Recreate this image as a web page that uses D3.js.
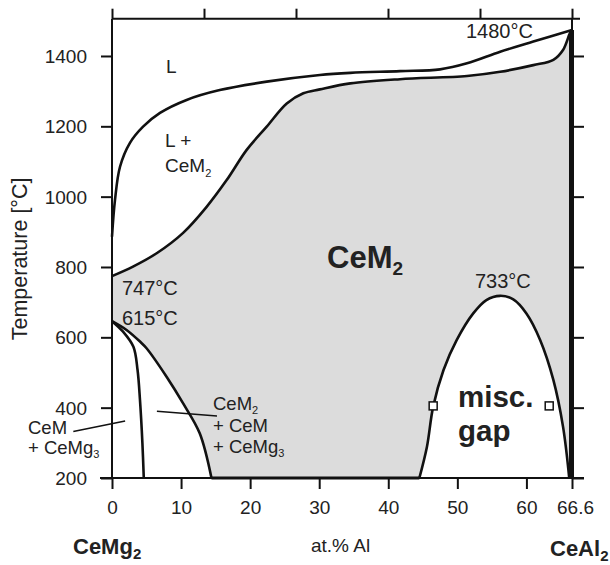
<!DOCTYPE html>
<html>
<head>
<meta charset="utf-8">
<script src="https://cdn.jsdelivr.net/npm/d3@7"></script>
<style>
  body { margin: 0; background: #fff; }
  svg { display: block; }
  text { font-family: "Liberation Sans", Arial, sans-serif; fill: #222; }
</style>
</head>
<body>
<svg id="chart" width="610" height="565"></svg>
<script>
// CeMg2 - CeAl2 section, x = at.% Al, y = temperature in degC

var xTicks = [0, 10, 20, 30, 40, 50, 60, 66.6];
var yTicks = [200, 400, 600, 800, 1000, 1200, 1400];
var topTicks = [0, 13.32, 26.64, 39.96, 53.28, 66.6];

// phase boundaries, [at.% Al, T]
var liquidus = [[0, 886], [0.43, 990], [1.16, 1085], [2.6, 1153], [4.5, 1199], [6.95, 1238],
  [10.8, 1275], [15.6, 1303], [22.4, 1327], [30.1, 1346], [34.5, 1352], [41.7, 1357],
  [47.5, 1362], [51.4, 1379], [56.2, 1412], [61, 1441], [66.6, 1474]];
var solidus = [[0, 774], [3.04, 801], [6.47, 839], [10.3, 897], [13.7, 971], [16.6, 1047],
  [19.5, 1133], [22.4, 1199], [25.3, 1265], [27.7, 1294], [30.1, 1305], [34.5, 1322],
  [41.7, 1334], [51.4, 1343], [56.2, 1355], [61, 1374], [63.9, 1389], [65.3, 1417],
  [66.3, 1465], [66.6, 1474]];
var solvusCeM2 = [[0, 646], [2.1, 621], [4.05, 588], [5.0, 569], [7.9, 488], [10.3, 412],
  [12.7, 327], [14.4, 200]];
var solvusCeM = [[0, 646], [1.6, 616], [3.1, 573], [3.7, 507], [4.05, 422], [4.4, 300], [4.6, 200]];
var miscGap = [[44.5, 200], [45.6, 289], [46.5, 403], [48.0, 507], [49.9, 592], [52.3, 668],
  [54.2, 706], [56.2, 718], [58.1, 708], [60.0, 668], [62.0, 592], [63.9, 479],
  [65.3, 346], [66.2, 200]];
var gapPoints = [[46.5, 405], [63.3, 405]];

var svg = d3.select("#chart");

var x = d3.scaleLinear().domain([0, 66.6]).range([112, 572]);
var y = d3.scaleLinear().domain([200, 1506]).range([478, 18.7]);

var line = d3.line()
  .x(function (d) { return x(d[0]); })
  .y(function (d) { return y(d[1]); })
  .curve(d3.curveCatmullRom.alpha(0.5));

// join path pieces into one closed outline
var piece = function (pts) { return line(pts).replace(/^M/, "L"); };

///////////////////////////////////////////////////////////////////////////////
// CeM2 field (grey)

var outline = line(solidus) +
  "L" + x(66.6) + "," + y(200) +
  piece(miscGap.slice().reverse()) +
  "L" + x(14.4) + "," + y(200) +
  piece(solvusCeM2.slice().reverse()) + "Z";

svg.append("path")
  .attr("d", outline)
  .attr("fill", "#dcdcdc")
  .attr("stroke", "none");

///////////////////////////////////////////////////////////////////////////////
// Axes

var axes = svg.append("g").attr("stroke", "#111").attr("stroke-width", 2).attr("fill", "none");
axes.append("line").attr("x1", x(0)).attr("x2", x(0)).attr("y1", y.range()[1]).attr("y2", y(200));
axes.append("line").attr("x1", x(0) - 12).attr("x2", x(66.6) + 12).attr("y1", y(200)).attr("y2", y(200));
axes.append("line").attr("x1", x(0)).attr("x2", x(66.6) + 8).attr("y1", y.range()[1]).attr("y2", y.range()[1]);
axes.append("line").attr("x1", x(66.6)).attr("x2", x(66.6)).attr("y1", y.range()[1]).attr("y2", y(200));

var axLeft = svg.append("g")
  .attr("transform", "translate(" + x(0) + ",0)")
  .call(d3.axisLeft(y).tickValues(yTicks).tickSize(11).tickPadding(14).tickFormat(d3.format("d")));
var axRight = svg.append("g")
  .attr("transform", "translate(" + x(66.6) + ",0)")
  .call(d3.axisRight(y).tickValues(yTicks).tickSize(12).tickFormat(""));
var axBottom = svg.append("g")
  .attr("transform", "translate(0," + y(200) + ")")
  .call(d3.axisBottom(x).tickValues(xTicks).tickSize(11).tickPadding(11)
    .tickFormat(function (d) { return d === 66.6 ? "66.6" : d; }));
var axTop = svg.append("g")
  .attr("transform", "translate(0," + y.range()[1] + ")")
  .call(d3.axisTop(x).tickValues(topTicks).tickSize(10).tickFormat(""));

[axLeft, axRight, axBottom, axTop].forEach(function (g) {
  g.select(".domain").remove();
  g.selectAll(".tick line").attr("stroke", "#111").attr("stroke-width", 2);
  g.selectAll(".tick text").attr("fill", "#222").style("font-size", "19px")
    .style("font-family", "'Liberation Sans', Arial, sans-serif");
});
axLeft.selectAll(".tick text").attr("dy", "0.35em");
axBottom.selectAll(".tick text").attr("dy", "0.75em")
  .attr("dx", function (d) { return d === 66.6 ? 3 : 0; });

///////////////////////////////////////////////////////////////////////////////
// Phase boundaries

var curves = svg.append("g").attr("fill", "none").attr("stroke", "#111")
  .attr("stroke-width", 2.6).attr("stroke-linejoin", "round");
[liquidus, solidus, solvusCeM2, solvusCeM, miscGap].forEach(function (pts) {
  curves.append("path").attr("d", line(pts));
});
curves.append("line")
  .attr("x1", x(14.4)).attr("x2", x(44.5)).attr("y1", y(200)).attr("y2", y(200))
  .attr("stroke-width", 3);
curves.append("line")
  .attr("x1", x(66.6) - 0.5).attr("x2", x(66.6) - 0.5).attr("y1", y(1474)).attr("y2", y(200))
  .attr("stroke-width", 5);

svg.selectAll("rect.pt")
  .data(gapPoints)
  .enter().append("rect")
  .attr("class", "pt")
  .attr("x", function (d) { return x(d[0]) - 4; })
  .attr("y", function (d) { return y(d[1]) - 4; })
  .attr("width", 8).attr("height", 8)
  .attr("fill", "#fff").attr("stroke", "#111").attr("stroke-width", 1.5);

// leader lines for the small fields
var leaders = [[[-5.6, 332], [1.9, 362]], [[6.5, 390], [15.2, 376]]];
svg.selectAll("path.leader")
  .data(leaders)
  .enter().append("path")
  .attr("class", "leader")
  .attr("d", d3.line().x(function (d) { return x(d[0]); }).y(function (d) { return y(d[1]); }))
  .attr("stroke", "#111").attr("stroke-width", 1.5).attr("fill", "none");

///////////////////////////////////////////////////////////////////////////////
// Labels

var label = function (px, py, parts, size, weight) {
  var t = svg.append("text").attr("x", px).attr("y", py)
    .style("font-size", size + "px").style("font-weight", weight || "normal");
  parts.forEach(function (p) {
    if (typeof p === "string") {
      t.append("tspan").text(p);
    } else {
      t.append("tspan").text(p.sub)
        .attr("dy", p.dy).style("font-size", p.size + "px");
    }
  });
  return t;
};

label(166, 73, ["L"], 19);
label(165, 146.5, ["L +"], 19);
label(165, 172, ["CeM", {sub: "2", dy: 5, size: 11}], 19);
label(466, 38, ["1480°C"], 20);
label(122, 294.5, ["747°C"], 20);
label(122, 325, ["615°C"], 20);
label(475, 288, ["733°C"], 20);
label(327, 268, ["CeM", {sub: "2", dy: 7, size: 19}], 31, "bold");
label(458, 407, ["misc."], 29.5, "bold");
label(458, 441, ["gap"], 29.5, "bold");
label(28, 433.5, ["CeM"], 18.5);
label(28, 453.5, ["+ CeMg", {sub: "3", dy: 4, size: 11}], 18.5);
label(213, 410, ["CeM", {sub: "2", dy: 4, size: 11}], 18.5);
label(213, 431.5, ["+ CeM"], 18.5);
label(213, 452.5, ["+ CeMg", {sub: "3", dy: 4, size: 11}], 18.5);
label(311, 552, ["at.% Al"], 19);
label(73, 553.5, ["CeMg", {sub: "2", dy: 5, size: 15}], 22, "bold");
label(550, 556, ["CeAl", {sub: "2", dy: 5, size: 15}], 22, "bold");

svg.append("text")
  .attr("transform", "translate(27," + y(823) + ") rotate(-90)")
  .attr("text-anchor", "middle")
  .style("font-size", "21.5px")
  .text("Temperature [°C]");
</script>
</body>
</html>
